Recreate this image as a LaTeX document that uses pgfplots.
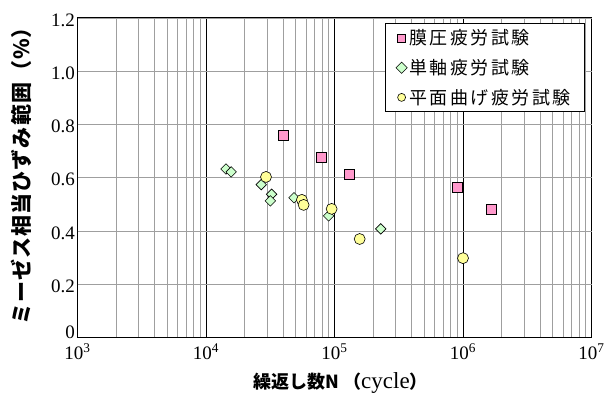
\documentclass[border=0pt]{standalone}
\usepackage{fontspec}
\setmainfont{Liberation Serif}
\newfontfamily\jp{Noto Sans CJK JP}
\usepackage{pgfplots}
\pgfplotsset{compat=1.18}
\definecolor{sqfill}{HTML}{FF99CC}
\definecolor{dmfill}{HTML}{CCFFCC}
\definecolor{cifill}{HTML}{FFFF99}
\begin{document}
\begin{tikzpicture}
\begin{axis}[
  scale only axis, width=514pt, height=319.5pt,
  xmode=log, log basis x=10,
  xmin=1e3, xmax=1e7, ymin=0, ymax=1.2,
  xtick={1e3,1e4,1e5,1e6,1e7},
  minor xtick={2e3,3e3,4e3,5e3,6e3,7e3,8e3,9e3,
    2e4,3e4,4e4,5e4,6e4,7e4,8e4,9e4,
    2e5,3e5,4e5,5e5,6e5,7e5,8e5,9e5,
    2e6,3e6,4e6,5e6,6e6,7e6,8e6,9e6},
  xticklabels={10\textsuperscript{3},10\textsuperscript{4},10\textsuperscript{5},10\textsuperscript{6},10\textsuperscript{7}},
  ytick={0,0.2,0.4,0.6,0.8,1.0,1.2},
  yticklabels={\smash{\raisebox{1.5pt}{0}},0.2,0.4,0.6,0.8,1.0,1.2},
  /pgf/number format/assume math mode=true,
  tick label style={font=\fontsize{19}{21}\selectfont},
  xticklabel style={yshift=-3pt},
  yticklabel style={xshift=1pt, yshift=-2pt},
  major tick length=0pt, minor tick length=0pt,
  xmajorgrids, xminorgrids,
  major grid style={black, line width=1pt},
  minor grid style={gray!75, line width=0.8pt},
  extra y ticks={0.2,0.4,0.6,0.8,1.0,1.2},
  extra y tick labels={},
  extra y tick style={grid=major, major grid style={gray!75, line width=0.8pt}},
  axis line style={black, line width=1pt},
  xlabel={{\jp\bfseries 繰返し数N （}{\rmfamily\fontsize{23}{24}\selectfont cycle}{\jp\bfseries ）}},
  ylabel={ミーゼス相当ひずみ範囲（\%）},
  xlabel style={font=\jp\fontsize{18}{22}\selectfont, yshift=-6pt, xshift=6pt},
  ylabel style={font=\jp\bfseries\fontsize{21}{22}\selectfont\addfontfeature{LetterSpace=5}, yshift=13pt, xshift=7pt},
  legend style={at={(rel axis cs:0.986,0.983)}, anchor=north east,
    draw=black, line width=0.8pt, fill=white,
    font=\jp\fontsize{18}{20}\selectfont\addfontfeature{LetterSpace=14},
    row sep=9pt, inner xsep=11pt, inner ysep=4pt},
  legend image post style={mark size=4pt},
  legend cell align=left,
]
\addplot[only marks, mark=square*, mark size=5pt,
  mark options={fill=sqfill, draw=black, line width=0.6pt}]
  coordinates {(4.02e4,0.760) (7.9e4,0.677) (1.30e5,0.613) (9.1e5,0.564) (1.65e6,0.482)};
\addlegendentry{膜圧疲労試験}
\addplot[only marks, mark=square*, mark size=3.7pt,
  mark options={rotate=45, fill=dmfill, draw=black, line width=0.6pt}]
  coordinates {(1.43e4,0.633) (1.57e4,0.622) (2.69e4,0.574) (3.24e4,0.538)
    (3.17e4,0.513) (4.84e4,0.525) (9.0e4,0.457) (2.29e5,0.408)};
\addlegendentry{単軸疲労試験}
\addplot[only marks, mark=*, mark size=5.5pt,
  mark options={fill=cifill, draw=black, line width=0.6pt}]
  coordinates {(2.93e4,0.603) (5.57e4,0.517) (5.75e4,0.498) (9.5e4,0.483)
    (1.57e5,0.370) (1.0e6,0.298)};
\addlegendentry{平面曲げ疲労試験}
\end{axis}
\path ([shift={(-77.5pt,-56.7pt)}]current axis.south west)
  rectangle ([shift={(16.5pt,18pt)}]current axis.north east);
\end{tikzpicture}
\end{document}
